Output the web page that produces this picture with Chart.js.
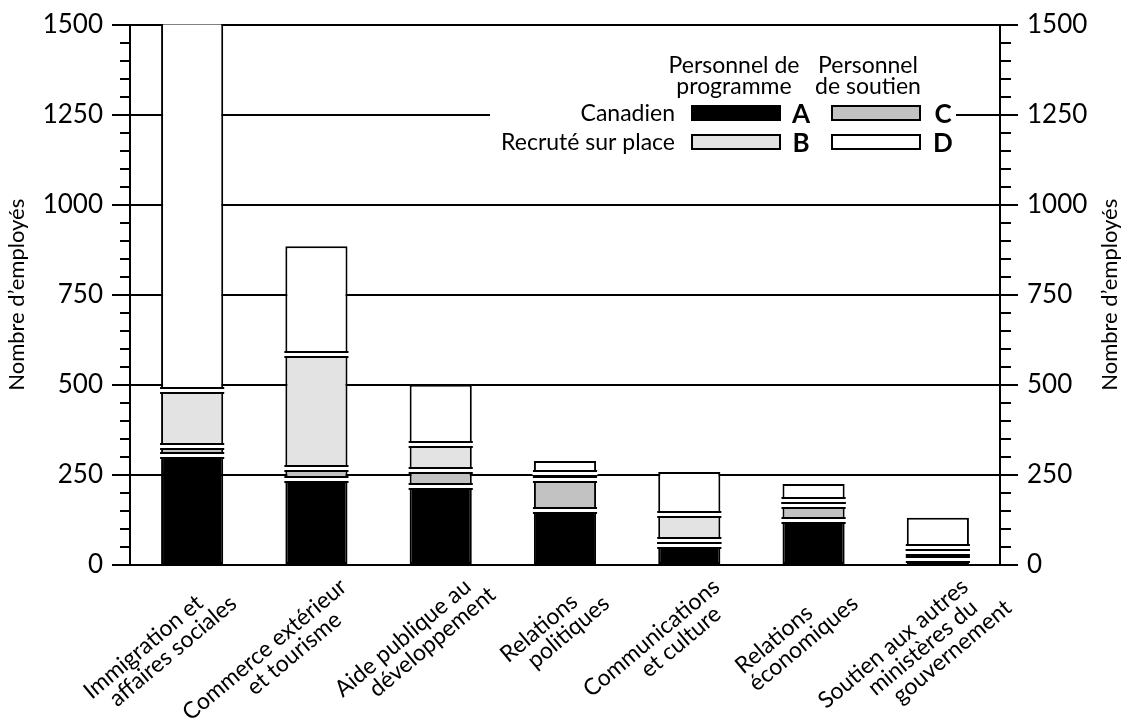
<!DOCTYPE html>
<html><head><meta charset="utf-8">
<script src="https://cdn.jsdelivr.net/npm/chart.js@4.4.0/dist/chart.umd.min.js"></script>
<style>html,body{margin:0;padding:0;background:#fff;}</style>
</head><body>
<canvas id="c" width="1136" height="725"></canvas>
<script>
// ---- data ----
const categories = [
  ["Immigration et", "affaires sociales"],
  ["Commerce extérieur", "et tourisme"],
  ["Aide publique au", "développement"],
  ["Relations", "politiques"],
  ["Communications", "et culture"],
  ["Relations", "économiques"],
  ["Soutien aux autres", "ministères du", "gouvernement"]
];
const seriesA = [306, 239, 220, 152, 55, 125, 18];   // Canadien – personnel de programme
const seriesC = [25, 30, 45, 87, 14, 41, 19];        // Canadien – personnel de soutien
const seriesB = [156, 318, 72, 16, 72, 15, 13];      // Recruté sur place – personnel de programme
const seriesD = [1200, 298, 163, 34, 117, 44, 81];   // Recruté sur place – personnel de soutien (bar 1 runs off the top)
const yTickLabels = [0, 250, 500, 750, 1000, 1250, 1500];
const axisTitle = "Nombre d’employés";
const legendHeaders = [["Personnel de", "programme"], ["Personnel", "de soutien"]];
const legendRows = ["Canadien", "Recruté sur place"];
const legendKeys = [["A", "C"], ["B", "D"]];

// ---- style ----
const FONT = "Lato, 'Noto Sans', 'DejaVu Sans', sans-serif";
Chart.defaults.font.family = FONT;
Chart.defaults.color = '#000';

const colors = { A: '#000000', C: '#c2c2c2', B: '#e3e3e3', D: '#ffffff' };
const datasets = [
  { label: 'A', data: seriesA },
  { label: 'C', data: seriesC },
  { label: 'B', data: seriesB },
  { label: 'D', data: seriesD }
].map(d => Object.assign(d, {
  backgroundColor: colors[d.label], borderColor: '#000', borderWidth: 2,
  borderSkipped: false, barPercentage: 0.5, categoryPercentage: 1, stack: 's'
}));

const isMajor = c => c.tick && yTickLabels.includes(c.tick.value);

// gaps between stacked boxes
const gapPlugin = {
  id: 'gaps',
  afterDatasetsDraw(chart) {
    const ctx = chart.ctx, a = chart.chartArea;
    ctx.save();
    ctx.beginPath(); ctx.rect(a.left, a.top, a.right - a.left, a.bottom - a.top); ctx.clip();
    const n = chart.data.datasets.length;
    for (let d = 0; d < n - 1; d++) {
      chart.getDatasetMeta(d).data.forEach(bar => {
        const y = Math.round(bar.y), w = bar.width, x0 = bar.x - w / 2;
        ctx.fillStyle = '#fff'; ctx.fillRect(x0 - 1.5, y - 1, w + 3, 3);
        ctx.fillStyle = '#000';
        ctx.fillRect(x0 - 1, y + 2, w + 2, 2);
        ctx.fillRect(x0 - 1, y - 3, w + 2, 2);
      });
    }
    ctx.restore();
  }
};

// custom legend + rotated category labels + right axis title
const decorPlugin = {
  id: 'decor',
  beforeDatasetsDraw(chart) {
    const ctx = chart.ctx;
    ctx.save();
    ctx.fillStyle = '#fff';
    ctx.fillRect(490, 34, 466, 126);
    ctx.fillStyle = '#000';
    ctx.textAlign = 'center'; ctx.textBaseline = 'alphabetic';
    ctx.font = `23px ${FONT}`;
    const hx = [734, 868];
    legendHeaders.forEach((lines, c) => lines.forEach((t, k) => ctx.fillText(t, hx[c], 73 + k * 21)));
    const rowY = [106, 135];
    const boxX = [692, 832];
    const keyX = [801, 943];
    legendRows.forEach((r, ri) => {
      ctx.font = `23px ${FONT}`; ctx.textAlign = 'right'; ctx.fillStyle = '#000';
      ctx.fillText(r, 675, rowY[ri] + 15);
      legendKeys[ri].forEach((k, ci) => {
        const ds = chart.data.datasets.find(d => d.label === k);
        ctx.fillStyle = ds.backgroundColor;
        ctx.fillRect(boxX[ci], rowY[ri], 88, 14);
        ctx.strokeStyle = '#000'; ctx.lineWidth = 2;
        ctx.strokeRect(boxX[ci], rowY[ri], 88, 14);
        ctx.fillStyle = '#000'; ctx.textAlign = 'center';
        ctx.font = `bold 26px ${FONT}`;
        ctx.fillText(k, keyX[ci], rowY[ri] + 17);
      });
    });
    ctx.restore();
  },
  afterDraw(chart) {
    const ctx = chart.ctx, xs = chart.scales.x, a = chart.chartArea;
    ctx.save();
    ctx.fillStyle = '#000';
    ctx.font = `23px ${FONT}`;
    ctx.textAlign = 'center'; ctx.textBaseline = 'middle';
    const LH = 22, S = 20, ang = -40 * Math.PI / 180;
    chart.data.labels.forEach((lines, i) => {
      const px = xs.getPixelForTick(i);
      const widths = lines.map(l => ctx.measureText(l).width);
      const maxW = Math.max(...widths);
      const kL = widths.indexOf(maxW);
      const c0 = -S * kL - maxW / 2;
      ctx.save();
      ctx.translate(px + 20, xs.top + 10);
      ctx.rotate(ang);
      lines.forEach((l, k) => ctx.fillText(l, c0 + S * k, LH * (k + 0.5)));
      ctx.restore();
    });
    // right axis title (reads bottom to top, like the left one)
    ctx.font = `22px ${FONT}`;
    ctx.translate(1110, (a.top + a.bottom) / 2);
    ctx.rotate(-Math.PI / 2);
    ctx.fillText(axisTitle, 0, 0);
    ctx.restore();
  }
};

const yCommon = (pos) => ({
  type: 'linear', position: pos, stacked: pos === 'left', min: 0, max: 1500,
  ticks: {
    stepSize: 50, autoSkip: false, padding: 9, color: '#000',
    font: { family: FONT, size: 26 },
    callback: v => yTickLabels.includes(v) ? String(v) : ''
  },
  border: { display: true, color: '#000', width: 2 },
  grid: {
    drawOnChartArea: pos === 'left',
    color: c => isMajor(c) ? '#000' : 'rgba(0,0,0,0)',
    lineWidth: 2, tickLength: 18, tickColor: '#000', tickWidth: 2,
    tickBorderDash: c => isMajor(c) ? [] : (pos === 'left' ? [0, 8, 10, 40] : [10, 40])
  }
});

const yLeft = yCommon('left');
yLeft.title = { display: true, text: axisTitle, font: { family: FONT, size: 22 }, color: '#000', padding: { top: 4, bottom: 0 } };
yLeft.afterFit = s => { s.width = 130; };
const yRight = yCommon('right');
yRight.afterFit = s => { s.width = 136; };

new Chart(document.getElementById('c'), {
  type: 'bar',
  data: { labels: categories, datasets },
  options: {
    responsive: false, animation: false,
    layout: { padding: { top: 22, left: 0, right: 0, bottom: 0 } },
    plugins: { legend: { display: false }, tooltip: { enabled: false } },
    scales: {
      x: {
        stacked: true, grid: { display: false, drawTicks: false }, border: { display: false },
        ticks: { display: false }, afterFit: s => { s.height = 160; }
      },
      y: yLeft,
      y2: yRight
    }
  },
  plugins: [gapPlugin, decorPlugin]
});
</script>
</body></html>
